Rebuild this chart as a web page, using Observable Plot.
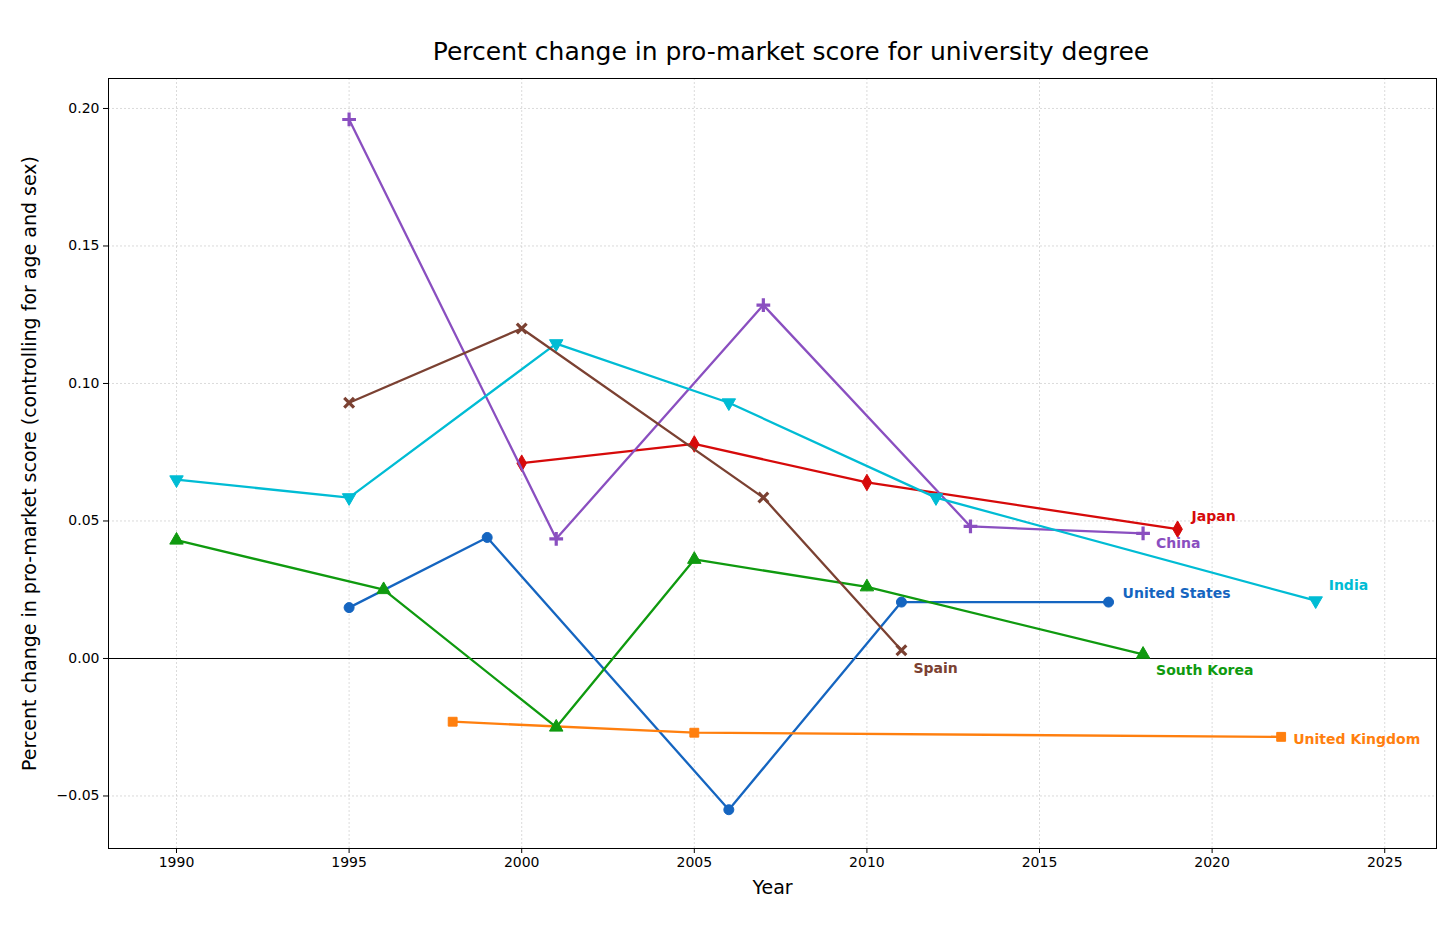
<!DOCTYPE html>
<html><head><meta charset="utf-8">
<script src="https://cdn.jsdelivr.net/npm/d3@7"></script>
<script src="https://cdn.jsdelivr.net/npm/@observablehq/plot@0.6"></script>
<style>body{margin:0;background:#fff;font-family:"DejaVu Sans",sans-serif}
#t{height:70px;display:flex;align-items:flex-end;justify-content:center;font-size:25px;padding-left:126px;box-sizing:border-box;line-height:36px}</style>
</head><body><div id="t">Percent change in pro-market score for university degree</div><div id="c"></div>
<script>
const usYears=[1995,1999,2006,2011,2017], usVals=[0.0185,0.044,-0.055,0.0205,0.0205];
const ukYears=[1998,2005,2022], ukVals=[-0.023,-0.027,-0.0285];
const krYears=[1990,1996,2001,2005,2010,2018], krVals=[0.043,0.025,-0.025,0.036,0.026,0.0015];
const jpYears=[2000,2005,2010,2019], jpVals=[0.071,0.078,0.064,0.047];
const cnYears=[1995,2001,2007,2013,2018], cnVals=[0.196,0.0435,0.1285,0.048,0.0455];
const inYears=[1990,1995,2001,2006,2012,2023], inVals=[0.065,0.0585,0.1145,0.093,0.0585,0.021];
const esYears=[1995,2000,2007,2011], esVals=[0.093,0.12,0.0585,0.003];
const series=[
 {name:"United States",years:usYears,vals:usVals,color:"#1565c0",symbol:"circle",rot:0,dx:14,dy:-9},
 {name:"United Kingdom",years:ukYears,vals:ukVals,color:"#ff7f0e",symbol:"square",rot:0,dx:12,dy:3},
 {name:"South Korea",years:krYears,vals:krVals,color:"#0f9a0f",symbol:"triangle",rot:0,dx:13,dy:16},
 {name:"Japan",years:jpYears,vals:jpVals,color:"#d60a0a",symbol:"diamond",rot:0,dx:14,dy:-13},
 {name:"China",years:cnYears,vals:cnVals,color:"#8a4fc0",symbol:"plus",rot:0,dx:13,dy:10},
 {name:"India",years:inYears,vals:inVals,color:"#00bcd4",symbol:"triangle",rot:180,dx:13,dy:-15},
 {name:"Spain",years:esYears,vals:esVals,color:"#7b4132",symbol:"times",rot:0,dx:12,dy:18}
];
const marks=[
 Plot.gridX([1990,1995,2000,2005,2010,2015,2020,2025],{stroke:"#ccc",strokeOpacity:0.7,strokeDasharray:"2,2"}),
 Plot.gridY([-0.05,0,0.05,0.1,0.15,0.2],{stroke:"#ccc",strokeOpacity:0.7,strokeDasharray:"2,2"}),
 Plot.ruleY([0],{stroke:"black",strokeWidth:1.2}),
 Plot.frame({stroke:"black"})
];
for(const s of series){
 const d=s.years.map((y,i)=>({x:y,y:s.vals[i]}));
 marks.push(Plot.line(d,{x:"x",y:"y",stroke:s.color,strokeWidth:2.3}));
 const thin=s.symbol==="plus"||s.symbol==="times";
 marks.push(Plot.dot(d,{x:"x",y:"y",symbol:s.symbol,rotate:s.rot,r:thin?4.5:5,fill:thin?"none":s.color,stroke:s.color,strokeWidth:thin?3.2:1}));
 const last=d[d.length-1];
 marks.push(Plot.text([last],{x:"x",y:"y",text:()=>s.name,dx:s.dx,dy:s.dy,textAnchor:"start",fill:s.color,fontWeight:"bold",fontSize:14}));
}
const chart=Plot.plot({width:1456,height:873,marginTop:8,marginBottom:95,marginLeft:108,marginRight:20,
 style:{fontFamily:"DejaVu Sans",fontSize:"14px"},
 x:{domain:[1988.03,2026.5],ticks:[1990,1995,2000,2005,2010,2015,2020,2025],tickFormat:d=>String(d),label:"Year",labelArrow:"none",labelAnchor:"center",labelOffset:45,tickSize:5},
 y:{domain:[-0.0691,0.2109],ticks:[-0.05,0,0.05,0.1,0.15,0.2],tickFormat:d=>d.toFixed(2).replace("-","−"),label:"Percent change in pro-market score (controlling for age and sex)",labelAnchor:"center",labelArrow:"none",labelOffset:86,tickSize:5},
 marks});
d3.select(chart).selectAll("[aria-label='x-axis label'] text,[aria-label='y-axis label'] text").style("font-size","19px");
document.getElementById("c").append(chart);
</script></body></html>
